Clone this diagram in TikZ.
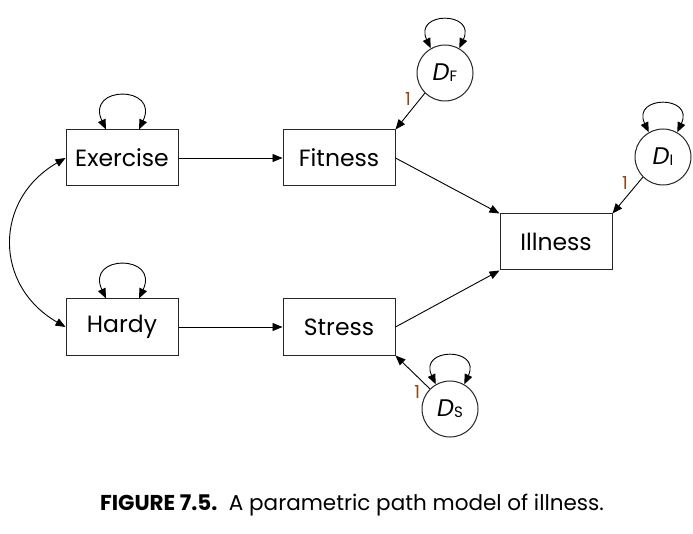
\documentclass[tikz,border=0pt]{standalone}
\usepackage{fontspec}
\setmainfont{Poppins}
\usepackage{tikz}
\usetikzlibrary{arrows.meta, positioning}

\definecolor{pathnum}{RGB}{150,70,20}

\begin{document}
\begin{tikzpicture}[
    x=1pt, y=1pt,
    node distance=104pt,
    varbox/.style={rectangle, draw=black!85, line width=1pt,
                 minimum width=112pt, minimum height=56pt, inner sep=0pt,
                 font=\fontsize{23.5}{26}\selectfont},
    errcirc/.style={circle, draw=black!85, line width=1pt,
                 minimum size=56pt, inner sep=0pt,
                 font=\fontsize{24}{26}\selectfont},
    arr/.style={-{Triangle[length=10pt,width=8pt]}, line width=0.9pt},
    dblarr/.style={{Triangle[length=10pt,width=8pt]}-{Triangle[length=10pt,width=8pt]}, line width=0.9pt},
    selfloop/.style={dblarr, out=115, in=65, looseness=#1},
    pathlbl/.style={text=pathnum, font=\fontsize{18}{19}\selectfont, inner sep=1pt}
  ]

  % frame of the page
  \useasboundingbox (0,0) rectangle (693,-534);

  \node[varbox] (exercise) at (122,-158) {Exercise};
  \node[varbox, right=of exercise] (fitness) {Fitness};
  \node[varbox, below=112pt of exercise] (hardy) {Hardy};
  \node[varbox, right=of hardy] (stress) {Stress};
  \node[varbox] (illness) at (556,-242) {Illness};

  \node[errcirc] (dfit) at (445,-73) {\itshape D\upshape\raisebox{-1pt}{\fontsize{15}{15}\selectfont F}};
  \node[errcirc] (dill) at (663,-157) {\itshape D\upshape\raisebox{-1pt}{\fontsize{15}{15}\selectfont I}};
  \node[errcirc] (dstr) at (450,-409) {\itshape D\upshape\raisebox{-1pt}{\fontsize{15}{15}\selectfont S}};

  % paths
  \draw[arr] (exercise) -- (fitness);
  \draw[arr] (hardy) -- (stress);
  \draw[arr] (fitness.east) -- (illness.north west);
  \draw[arr] (stress.east) -- (illness.south west);
  \draw[arr] (dfit.225) -- node[pathlbl, pos=0.15, left=8pt] {1} (fitness.north east);
  \draw[arr] (dill.225) -- node[pathlbl, pos=0.15, left=9pt] {1} (illness.north east);
  \draw[arr] (dstr.135) -- node[pathlbl, pos=0.2, below left=2pt] {1} (stress.south east);

  % covariance
  \draw[dblarr] (exercise.west) to[out=210, in=150, looseness=1.26] (hardy.west);

  % variances
  \draw[selfloop=3.8] ([xshift=-16pt]exercise.north) to ([xshift=17pt]exercise.north);
  \draw[selfloop=3.8] ([xshift=-16pt]hardy.north) to ([xshift=17pt]hardy.north);
  \draw[selfloop=3.7] (dfit.120) to (dfit.60);
  \draw[selfloop=3.7] (dill.120) to (dill.60);
  \draw[selfloop=3.7] (dstr.120) to (dstr.60);

  \node[font=\fontsize{21.5}{24}\selectfont] (caption) at (352,-505)
    {\textbf{FIGURE 7.5.}\ \ A parametric path model of illness.};

\end{tikzpicture}
\end{document}
